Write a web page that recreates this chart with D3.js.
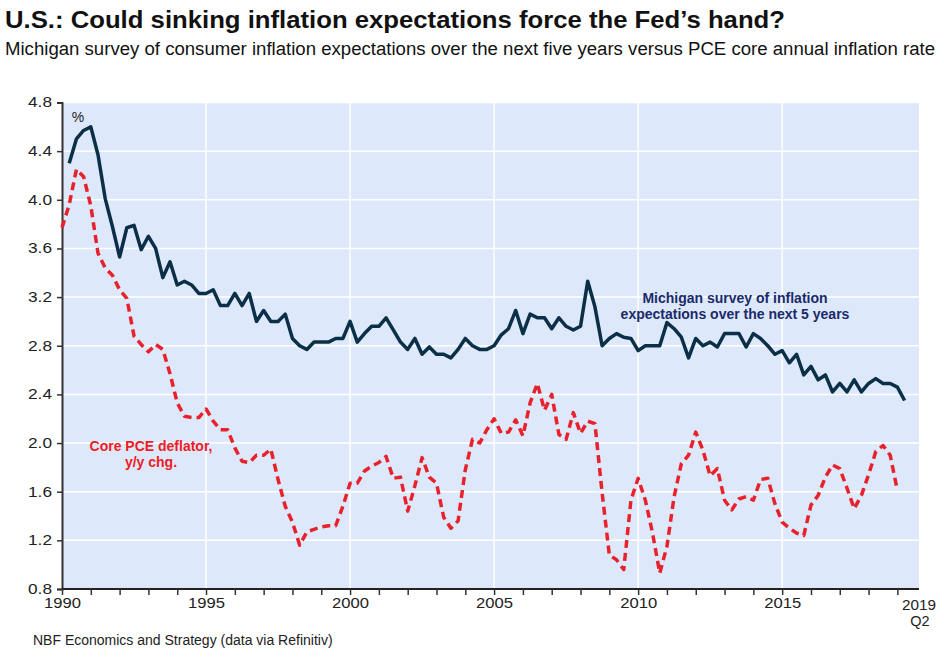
<!DOCTYPE html>
<html>
<head>
<meta charset="utf-8">
<script src="https://cdn.jsdelivr.net/npm/d3@7"></script>
<style>
  html, body { margin: 0; padding: 0; background: #ffffff; }
  svg { display: block; }
  text { font-family: "Liberation Sans", Arial, Helvetica, sans-serif; }
</style>
</head>
<body>
<svg id="chart" width="944" height="667"></svg>
<script>
// ---------------- DATA ----------------
const titleText = "U.S.: Could sinking inflation expectations force the Fed’s hand?";
const subtitleText = "Michigan survey of consumer inflation expectations over the next five years versus PCE core annual inflation rate";
const sourceText = "NBF Economics and Strategy (data via Refinitiv)";

// Michigan survey, 5-year inflation expectations, quarterly from 1990Q2 to 2019Q2
const michiganStart = [1990, 2];
const michigan = [
  4.30,4.50,4.57,4.60,4.37,4.01,3.78,3.53,3.77,3.79,
  3.59,3.70,3.60,3.36,3.49,3.30,3.33,3.30,3.23,3.23,
  3.26,3.13,3.13,3.23,3.13,3.23,3.00,3.09,3.00,3.00,
  3.06,2.86,2.80,2.77,2.83,2.83,2.83,2.86,2.86,3.00,
  2.83,2.90,2.96,2.96,3.03,2.93,2.83,2.77,2.86,2.73,
  2.79,2.73,2.73,2.70,2.77,2.86,2.80,2.77,2.77,2.80,
  2.89,2.94,3.09,2.90,3.06,3.03,3.03,2.94,3.03,2.96,
  2.93,2.96,3.33,3.12,2.80,2.86,2.90,2.87,2.86,2.76,
  2.80,2.80,2.80,2.99,2.94,2.87,2.70,2.86,2.80,2.83,
  2.79,2.90,2.90,2.90,2.79,2.90,2.86,2.80,2.73,2.76,
  2.66,2.73,2.56,2.63,2.52,2.56,2.42,2.49,2.42,2.52,
  2.42,2.49,2.53,2.49,2.49,2.46,2.35
];

// Core PCE deflator, y/y change, quarterly from 1990Q1 to 2019Q1
const pceStart = [1990, 1];
const pce = [
  3.77,3.96,4.25,4.19,3.95,3.56,3.44,3.38,3.26,3.19,
  2.88,2.81,2.75,2.81,2.77,2.57,2.33,2.22,2.21,2.21,
  2.28,2.18,2.11,2.11,1.96,1.85,1.84,1.90,1.90,1.95,
  1.70,1.48,1.35,1.16,1.27,1.29,1.31,1.32,1.32,1.48,
  1.67,1.67,1.77,1.81,1.84,1.89,1.71,1.72,1.44,1.65,
  1.88,1.72,1.67,1.39,1.30,1.36,1.78,2.03,2.00,2.11,
  2.20,2.08,2.09,2.19,2.06,2.33,2.49,2.27,2.40,2.07,
  2.03,2.25,2.08,2.18,2.16,1.59,1.08,1.04,0.96,1.53,
  1.71,1.53,1.26,0.93,1.15,1.56,1.83,1.90,2.09,1.94,
  1.73,1.79,1.53,1.45,1.54,1.56,1.53,1.70,1.71,1.50,
  1.35,1.30,1.26,1.24,1.49,1.57,1.72,1.82,1.79,1.63,
  1.46,1.57,1.74,1.93,1.98,1.90,1.61
];

const yTicks = [0.8, 1.2, 1.6, 2.0, 2.4, 2.8, 3.2, 3.6, 4.0, 4.4, 4.8];
const xLabelYears = [1990, 1995, 2000, 2005, 2010, 2015];
const xGridYears = [1995, 2000, 2005, 2010, 2015];
const xTickYears = d3.range(1990, 2020);
const lastLabel = ["2019", "Q2"];
const michiganLabel = ["Michigan survey of inflation", "expectations over the next 5 years"];
const pceLabel = ["Core PCE deflator,", "y/y chg."];

// ---------------- LAYOUT ----------------
const plot = { left: 62, right: 919, top: 102.5, bottom: 589 };
const svg = d3.select("#chart");

const x = d3.scaleLinear().domain([1990, 2019.75]).range([plot.left, plot.right]);
const y = d3.scaleLinear().domain([0.8, 4.8]).range([plot.bottom, plot.top]);

const toSeries = (start, vals) => vals.map((v, i) => ({ t: start[0] + (start[1] - 1 + i) / 4, v }));
const michSeries = toSeries(michiganStart, michigan);
const pceSeries = toSeries(pceStart, pce);

// Title & subtitle
svg.append("text").attr("x", 5).attr("y", 28)
  .attr("font-size", 24.5).attr("font-weight", "bold").attr("fill", "#111")
  .attr("textLength", 780).attr("lengthAdjust", "spacingAndGlyphs")
  .text(titleText);
svg.append("text").attr("x", 5).attr("y", 55)
  .attr("font-size", 18).attr("fill", "#111")
  .attr("textLength", 930).attr("lengthAdjust", "spacingAndGlyphs")
  .text(subtitleText);

// Plot background
svg.append("rect")
  .attr("x", plot.left).attr("y", plot.top)
  .attr("width", plot.right - plot.left).attr("height", plot.bottom - plot.top)
  .attr("fill", "#dde9fb");

// Gridlines
svg.append("g").selectAll("line").data(yTicks.slice(1)).join("line")
  .attr("x1", plot.left).attr("x2", plot.right)
  .attr("y1", d => y(d)).attr("y2", d => y(d))
  .attr("stroke", "#ffffff").attr("stroke-width", 1.5);
svg.append("g").selectAll("line").data(xGridYears).join("line")
  .attr("x1", d => x(d)).attr("x2", d => x(d))
  .attr("y1", plot.top).attr("y2", plot.bottom)
  .attr("stroke", "#ffffff").attr("stroke-width", 1.5);

// Axes
const yAxis = d3.axisLeft(y).tickValues(yTicks).tickFormat(d3.format(".1f")).tickSize(5).tickPadding(5);
const gy = svg.append("g").attr("transform", `translate(${plot.left},0)`).call(yAxis);
gy.select(".domain").attr("stroke", "#333").attr("stroke-width", 2);
gy.selectAll(".tick line").attr("stroke", "#333").attr("stroke-width", 1.5);
gy.selectAll(".tick text").attr("font-size", 14).attr("fill", "#222")
  .attr("font-family", "'Liberation Sans', Arial, sans-serif")
  .attr("textLength", 24).attr("lengthAdjust", "spacingAndGlyphs");

const xAxis = d3.axisBottom(x).tickValues(xTickYears)
  .tickFormat(d => xLabelYears.includes(d) ? String(d) : "")
  .tickSize(6).tickPadding(3).tickSizeOuter(0);
const gx = svg.append("g").attr("transform", `translate(0,${plot.bottom})`).call(xAxis);
gx.select(".domain").attr("stroke", "#222").attr("stroke-width", 2)
  .attr("d", `M${plot.left},0H${plot.right}`);
gx.selectAll(".tick line").attr("stroke", "#333").attr("stroke-width", 1.5);
gx.selectAll(".tick text").attr("font-size", 14.5).attr("fill", "#222")
  .attr("font-family", "'Liberation Sans', Arial, sans-serif")
  .filter(d => xLabelYears.includes(d))
  .attr("textLength", 37).attr("lengthAdjust", "spacingAndGlyphs");

// Last label "2019 / Q2"
svg.append("text").attr("x", plot.right).attr("y", 610)
  .attr("text-anchor", "middle").attr("font-size", 14.5).attr("fill", "#222")
  .attr("textLength", 34).attr("lengthAdjust", "spacingAndGlyphs").text(lastLabel[0]);
svg.append("text").attr("x", plot.right + 1).attr("y", 626)
  .attr("text-anchor", "middle").attr("font-size", 14.5).attr("fill", "#222").text(lastLabel[1]);

// Lines
const line = d3.line().x(d => x(d.t)).y(d => y(d.v));
svg.append("path").datum(pceSeries)
  .attr("d", line).attr("fill", "none")
  .attr("stroke", "#e8222c").attr("stroke-width", 3.5)
  .attr("stroke-dasharray", "8,5").attr("stroke-linejoin", "round");
svg.append("path").datum(michSeries)
  .attr("d", line).attr("fill", "none")
  .attr("stroke", "#0c2f48").attr("stroke-width", 3.5)
  .attr("stroke-linejoin", "round");

// Annotations
svg.append("text").attr("x", 78).attr("y", 122).attr("text-anchor", "middle")
  .attr("font-size", 14).attr("fill", "#222").text("%");

svg.append("g").selectAll("text").data(michiganLabel).join("text")
  .attr("x", 735).attr("y", (d, i) => 303 + i * 16)
  .attr("text-anchor", "middle").attr("font-size", 14).attr("font-weight", "bold")
  .attr("fill", "#1a2a6a").text(d => d);

svg.append("g").selectAll("text").data(pceLabel).join("text")
  .attr("x", 151).attr("y", (d, i) => 451 + i * 16)
  .attr("text-anchor", "middle").attr("font-size", 14).attr("font-weight", "bold")
  .attr("fill", "#ee1c25").text(d => d);

// Source
svg.append("text").attr("x", 33).attr("y", 645)
  .attr("font-size", 14).attr("fill", "#222").text(sourceText);
</script>
</body>
</html>
